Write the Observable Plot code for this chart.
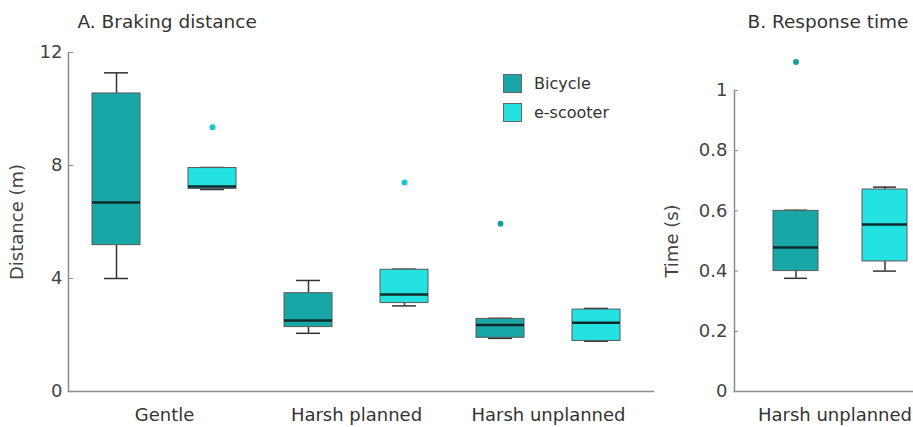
<!DOCTYPE html>
<html>
<head>
<meta charset="utf-8">
<script src="https://cdn.jsdelivr.net/npm/d3@7"></script>
<script src="https://cdn.jsdelivr.net/npm/@observablehq/plot@0.6"></script>
<style>
  body { margin: 0; background: #fff; font-family: "DejaVu Sans", sans-serif; }
  #wrap { position: relative; width: 913px; height: 427px; overflow: hidden; }
  .panel { position: absolute; top: 0; }
  .title { position: absolute; font-size: 18.5px; color: #333; white-space: nowrap; line-height: 18px; }
  .legend { position: absolute; left: 503px; top: 74px; font-size: 16px; color: #333; }
  .legend .item { display: flex; align-items: center; height: 19px; margin-bottom: 10px; }
  .legend .sw { width: 17px; height: 17px; border: 1px solid #666; margin-right: 12px; }
</style>
</head>
<body>
<div id="wrap"></div>
<script>
// ---------- data ----------
const categories = ["Gentle", "Harsh planned", "Harsh unplanned"];
const vehicles = ["Bicycle", "e-scooter"];
const colors = ["#19a6a6", "#25e2e2"];

// A. Braking distance (m): box-plot summary per category
const brakeBikeMin    = [4.00, 2.06, 1.88];
const brakeBikeQ1     = [5.18, 2.28, 1.90];
const brakeBikeMedian = [6.69, 2.51, 2.35];
const brakeBikeQ3     = [10.55, 3.48, 2.57];
const brakeBikeMax    = [11.28, 3.93, 2.59];
const brakeScootMin    = [7.15, 3.03, 1.78];
const brakeScootQ1     = [7.17, 3.13, 1.79];
const brakeScootMedian = [7.26, 3.43, 2.43];
const brakeScootQ3     = [7.91, 4.31, 2.90];
const brakeScootMax    = [7.93, 4.33, 2.94];
const brakeOutlierCategory = ["Harsh unplanned", "Gentle", "Harsh planned"];
const brakeOutlierVehicle  = ["Bicycle", "e-scooter", "e-scooter"];
const brakeOutlierValue    = [5.94, 9.35, 7.40];

// B. Response time (s), Harsh unplanned only
const respCategory = ["Harsh unplanned"];
const respMin    = [0.376, 0.400];   // [Bicycle, e-scooter]
const respQ1     = [0.400, 0.432];
const respMedian = [0.478, 0.555];
const respQ3     = [0.600, 0.671];
const respMax    = [0.602, 0.679];
const respOutlierVehicle = ["Bicycle"];
const respOutlierValue   = [1.095];

const brakeTicks = [0, 4, 8, 12];
const respTicks = [0, 0.2, 0.4, 0.6, 0.8, 1];
const respTickLabels = ["0", "0.2", "0.4", "0.6", "0.8", "1"];

// ---------- tables ----------
const key = (c, v) => c + "|" + v;
const brakeRows = [];
categories.forEach((c, i) => {
  brakeRows.push({category: c, vehicle: "Bicycle", key: key(c, "Bicycle"),
    min: brakeBikeMin[i], q1: brakeBikeQ1[i], median: brakeBikeMedian[i], q3: brakeBikeQ3[i], max: brakeBikeMax[i]});
  brakeRows.push({category: c, vehicle: "e-scooter", key: key(c, "e-scooter"),
    min: brakeScootMin[i], q1: brakeScootQ1[i], median: brakeScootMedian[i], q3: brakeScootQ3[i], max: brakeScootMax[i]});
});
const brakeOut = brakeOutlierValue.map((v, i) => ({key: key(brakeOutlierCategory[i], brakeOutlierVehicle[i]), vehicle: brakeOutlierVehicle[i], value: v}));
const respRows = vehicles.map((v, i) => ({category: respCategory[0], vehicle: v, key: key(respCategory[0], v),
  min: respMin[i], q1: respQ1[i], median: respMedian[i], q3: respQ3[i], max: respMax[i]}));
const respOut = respOutlierValue.map((v, i) => ({key: key(respCategory[0], respOutlierVehicle[i]), vehicle: respOutlierVehicle[i], value: v}));

const outColor = {"Bicycle": "#139f9f", "e-scooter": "#1dc6cc"};

function boxMarks(rows, outs, capInset) {
  return [
    Plot.ruleX(rows, {x: "key", y1: "q3", y2: "max", stroke: "#333", strokeWidth: 1.5}),
    Plot.ruleX(rows, {x: "key", y1: "min", y2: "q1", stroke: "#333", strokeWidth: 1.5}),
    Plot.tickY(rows, {x: "key", y: "max", stroke: "#333", strokeWidth: 1.5, insetLeft: capInset, insetRight: capInset}),
    Plot.tickY(rows, {x: "key", y: "min", stroke: "#333", strokeWidth: 1.5, insetLeft: capInset, insetRight: capInset}),
    Plot.barY(rows, {x: "key", y1: "q1", y2: "q3", fill: "vehicle", stroke: "#5a5a5a", strokeWidth: 1}),
    Plot.tickY(rows, {x: "key", y: "median", stroke: "#102a2a", strokeWidth: 2.5}),
    Plot.dot(outs, {x: "key", y: "value", r: 3, fill: d => outColor[d.vehicle], stroke: null})
  ];
}

const common = {
  style: {fontFamily: "DejaVu Sans, sans-serif", fontSize: "18px", color: "#444", background: "transparent", overflow: "visible"},
  color: {domain: vehicles, range: colors}
};

// ---------- panel A ----------
const plotA = Plot.plot({
  ...common,
  width: 660, height: 427,
  marginLeft: 68, marginRight: 7, marginTop: 52, marginBottom: 36,
  x: {type: "band", domain: brakeRows.map(d => d.key), range: [68, 644], paddingInner: 0.5, paddingOuter: 0.25, axis: null},
  y: {domain: [0, 12], axis: null},
  marks: [
    Plot.axisY({ticks: brakeTicks, tickSize: -5, tickPadding: 11, stroke: "#888", fill: "#444",
      label: "Distance (m)", labelArrow: "none", labelAnchor: "center", labelOffset: 58}),
    Plot.frame({anchor: "left", stroke: "#8c8c8c", strokeWidth: 1.5}),
    Plot.frame({anchor: "bottom", stroke: "#8c8c8c", strokeWidth: 1.5}),
    ...boxMarks(brakeRows, brakeOut, 12),
    Plot.text(categories, {x: c => key(c, "Bicycle"), frameAnchor: "bottom", dy: 29, dx: 48, fill: "#333"})
  ]
});
plotA.classList.add("panel");
plotA.style.left = "0px";

// ---------- panel B ----------
const plotB = Plot.plot({
  ...common,
  width: 253, height: 427,
  marginLeft: 74, marginRight: 0, marginTop: 90, marginBottom: 36,
  x: {type: "band", domain: respRows.map(d => d.key), range: [90.5, 268.5], paddingInner: 0.5, paddingOuter: 0.25, axis: null},
  y: {domain: [0, 1], axis: null},
  marks: [
    Plot.axisY({ticks: respTicks, tickFormat: (d, i) => respTickLabels[i], tickSize: -4, tickPadding: 11, stroke: "#888", fill: "#444",
      label: "Time (s)", labelArrow: "none", labelAnchor: "center", labelOffset: 69}),
    Plot.frame({anchor: "left", stroke: "#8c8c8c", strokeWidth: 1.5}),
    Plot.frame({anchor: "bottom", stroke: "#8c8c8c", strokeWidth: 1.5}),
    ...boxMarks(respRows, respOut, 11),
    Plot.text(respCategory, {x: c => key(c, "Bicycle"), frameAnchor: "bottom", dy: 29, dx: 39, fill: "#333"})
  ]
});
plotB.classList.add("panel");
plotB.style.left = "660px";

const wrap = document.getElementById("wrap");
wrap.appendChild(plotA);
wrap.appendChild(plotB);

function addTitle(text, cx, top) {
  const t = document.createElement("div");
  t.className = "title";
  t.textContent = text;
  t.style.top = top + "px";
  wrap.appendChild(t);
  t.style.left = (cx - t.offsetWidth / 2) + "px";
}
addTitle("A. Braking distance", 167, 13);
addTitle("B. Response time", 828, 13);

const legend = document.createElement("div");
legend.className = "legend";
vehicles.forEach((v, i) => {
  const item = document.createElement("div");
  item.className = "item";
  const sw = document.createElement("div");
  sw.className = "sw";
  sw.style.background = colors[i];
  const lab = document.createElement("span");
  lab.textContent = v;
  item.appendChild(sw);
  item.appendChild(lab);
  legend.appendChild(item);
});
wrap.appendChild(legend);
</script>
</body>
</html>
